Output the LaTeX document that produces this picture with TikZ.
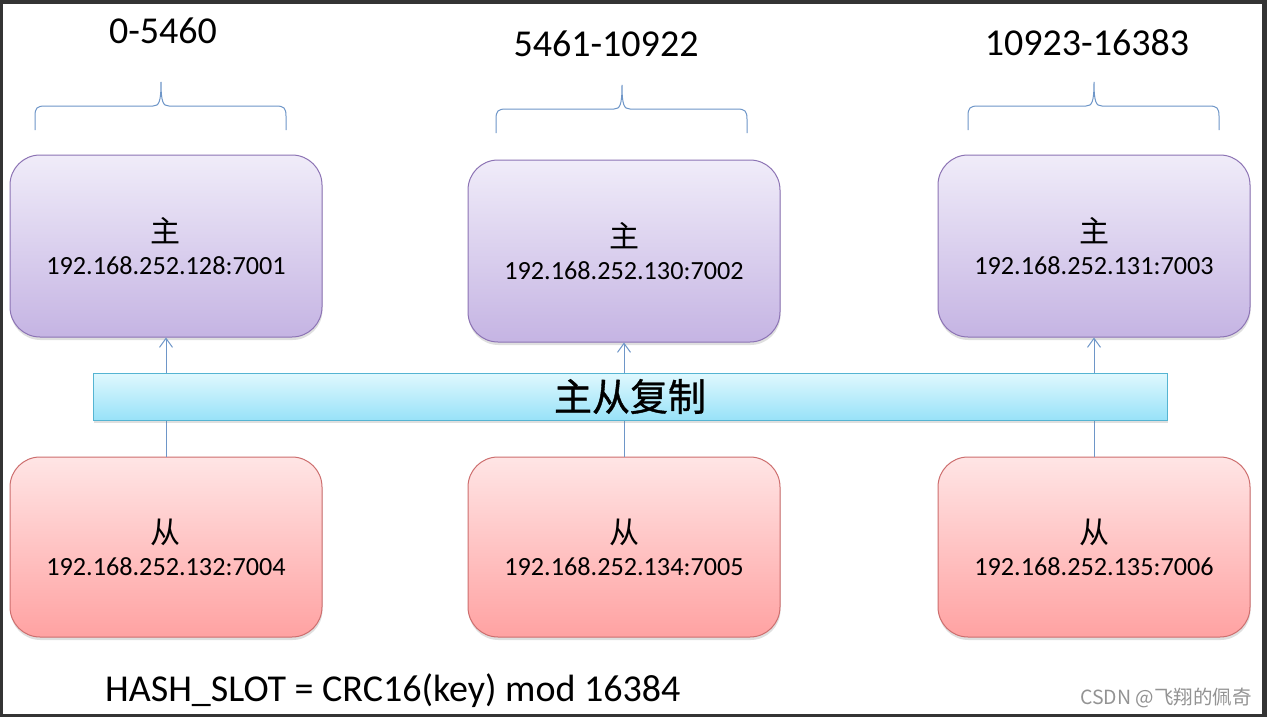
\documentclass[tikz,border=0pt]{standalone}
\usepackage{fontspec}
\setmainfont{Carlito}
\newfontfamily\cjk{Noto Sans CJK SC}
\newfontfamily\cjkbar[FakeBold=1]{Noto Sans CJK SC}
\usetikzlibrary{arrows.meta,shadows}

\definecolor{linkblue}{RGB}{110,150,200}
\definecolor{mastertop}{RGB}{240,236,249}
\definecolor{masterbot}{RGB}{197,180,227}
\definecolor{masterline}{RGB}{140,115,180}
\definecolor{slavetop}{RGB}{255,229,229}
\definecolor{slavebot}{RGB}{255,162,162}
\definecolor{slaveline}{RGB}{205,110,110}
\definecolor{bartop}{RGB}{224,248,254}
\definecolor{barbot}{RGB}{152,226,248}
\definecolor{barline}{RGB}{85,180,210}
\definecolor{framegray}{RGB}{52,52,52}

\tikzset{
  nodebox/.style={rounded corners=30pt, minimum width=312pt, align=center,
    line width=1pt, inner sep=0pt,
    drop shadow={shadow xshift=0.5pt, shadow yshift=-3pt, opacity=0.25},
    font=\fontsize{26.2}{32}\selectfont},
  master/.style={nodebox, minimum height=182pt, draw=masterline,
    top color=mastertop, bottom color=masterbot},
  slave/.style={nodebox, minimum height=180pt, draw=slaveline,
    top color=slavetop, bottom color=slavebot},
  syncbar/.style={minimum width=1074pt, minimum height=47pt, draw=barline,
    line width=1pt, top color=bartop, bottom color=barbot, inner sep=0pt,
    drop shadow={shadow xshift=0.5pt, shadow yshift=-3pt, opacity=0.25},
    font=\cjkbar\fontsize{38}{40}\selectfont},
  slot/.style={font=\fontsize{38}{40}\selectfont, inner sep=0pt},
  brc/.style={draw=linkblue, line width=1pt},
  link/.style={draw=linkblue, line width=1pt,
    -{Straight Barb[length=9pt,width=13pt]}}
}

\begin{document}
\begin{tikzpicture}[x=1pt, y=-1pt]

  \useasboundingbox (0,0) rectangle (1267,717);
  \fill[framegray] (0,0) rectangle (1267,717);
  \fill[white] (3,4) rectangle (1262,714);

  % slot ranges
  \foreach \n/\x/\y/\r in {1/163/31/0-5460, 2/606/44/5461-10922, 3/1087/43/10923-16383}
  \node[slot] (r\n) at (\x,\y) {\r};

  \foreach \a/\m/\b/\t in {35/161/286/82, 496/622/747/85, 968/1094/1219/82}
  \draw[brc] (\a,\t+48) -- (\a,\t+34) .. controls (\a,\t+26) and (\a+2,\t+24) .. (\a+10,\t+24)
    -- (\m-8,\t+24) .. controls (\m-2,\t+24) and (\m,\t+20) .. (\m,\t)
    .. controls (\m,\t+20) and (\m+2,\t+24) .. (\m+8,\t+24)
    -- (\b-10,\t+24) .. controls (\b-2,\t+24) and (\b,\t+26) .. (\b,\t+34) -- (\b,\t+48);

  % masters and slaves
  \foreach \n/\x/\y/\ip in {1/166/246/192.168.252.128:7001, 2/624/251/192.168.252.130:7002, 3/1094/246/192.168.252.131:7003}
  \node[master] (m\n) at (\x,\y) {{\cjk\fontsize{30}{32}\selectfont 主}\\\ip};

  \foreach \n/\x/\ip in {1/166/192.168.252.132:7004, 2/624/192.168.252.134:7005, 3/1094/192.168.252.135:7006}
  \node[slave] (s\n) at (\x,547) {{\cjk\fontsize{30}{32}\selectfont 从}\\\ip};

  \foreach \n in {1,2,3}
  \draw[link] (s\n.north) -- (m\n.south);

  \node[syncbar] (sync) at (630,396.5) {主从复制};

  \node[anchor=base west, font=\fontsize{38}{40}\selectfont, inner sep=0pt] (hash) at (105,701)
    {HASH\_SLOT = CRC16(key) mod 16384};

  \node[anchor=east, text=gray!85, font=\cjk\fontsize{19.5}{20}\selectfont, inner sep=0pt] (mark) at (1252,698)
    {CSDN @飞翔的佩奇};

\end{tikzpicture}
\end{document}
